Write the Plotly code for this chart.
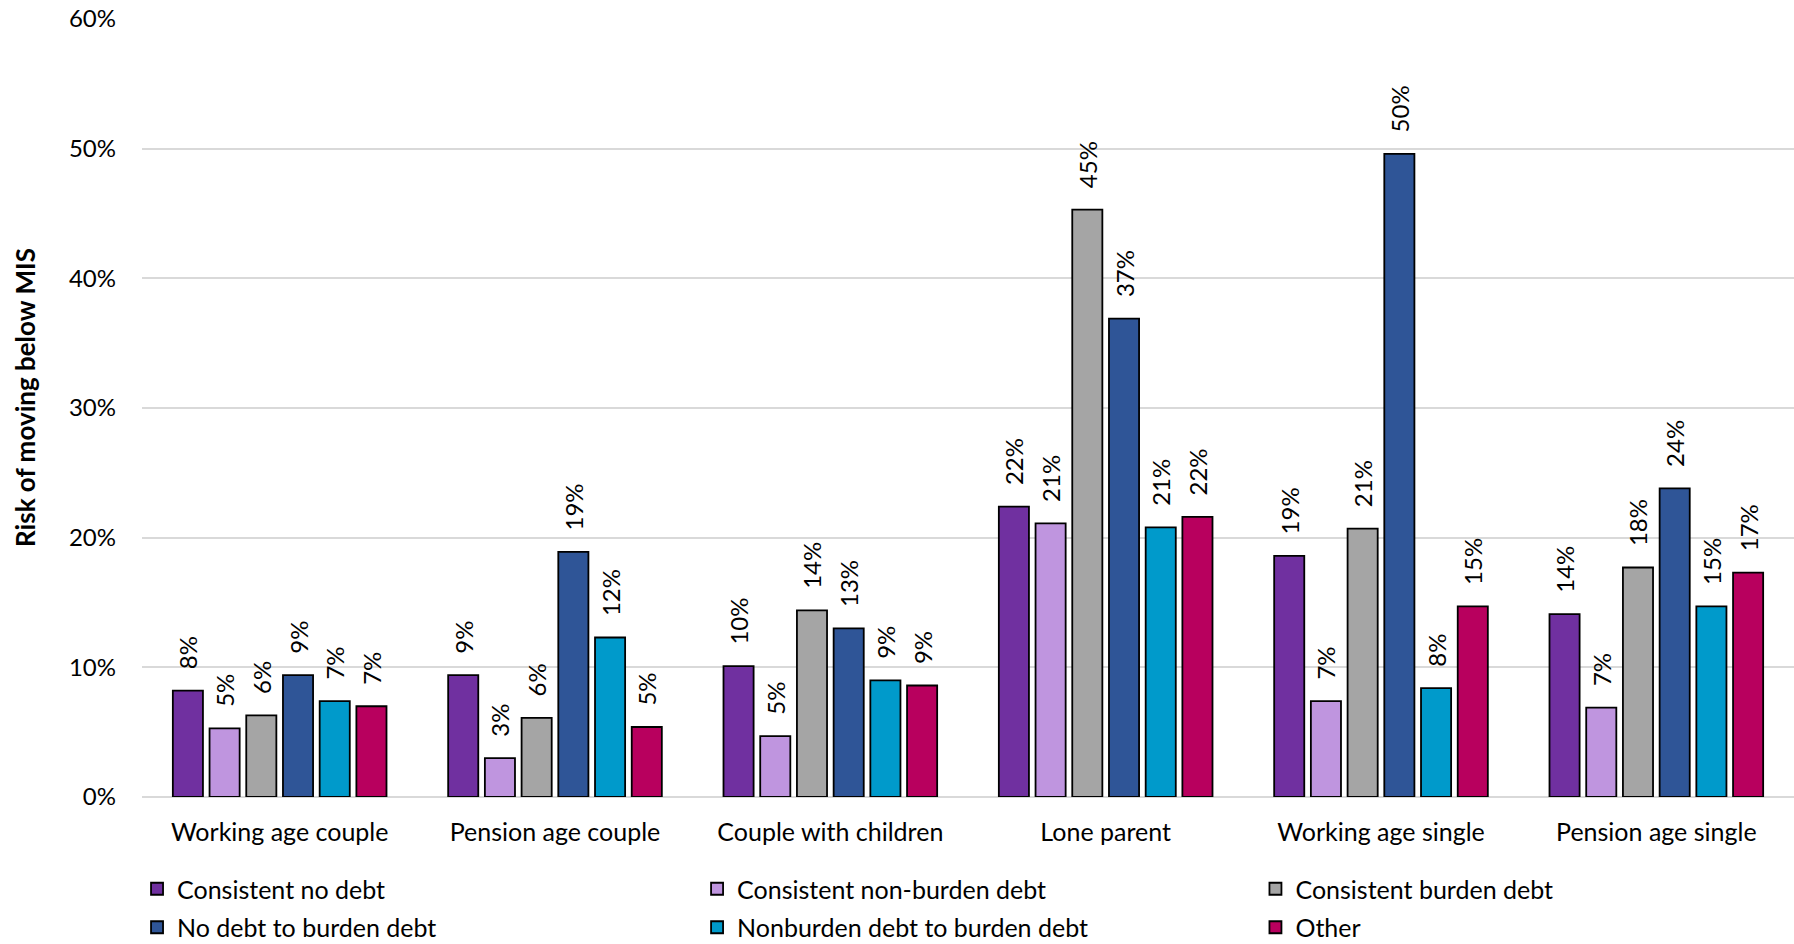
import plotly.graph_objects as go

# Household types along the x axis
categories = [
    "Working age couple",
    "Pension age couple",
    "Couple with children",
    "Lone parent",
    "Working age single",
    "Pension age single",
]

# Risk of moving below MIS, by debt trajectory
consistent_no_debt = [0.082, 0.094, 0.101, 0.224, 0.186, 0.141]
consistent_non_burden_debt = [0.053, 0.030, 0.047, 0.211, 0.074, 0.069]
consistent_burden_debt = [0.063, 0.061, 0.144, 0.453, 0.207, 0.177]
no_debt_to_burden_debt = [0.094, 0.189, 0.130, 0.369, 0.496, 0.238]
nonburden_debt_to_burden_debt = [0.074, 0.123, 0.090, 0.208, 0.084, 0.147]
other = [0.070, 0.054, 0.086, 0.216, 0.147, 0.173]

series = [
    ("Consistent no debt", consistent_no_debt, "#7030A0", "legend"),
    ("Consistent non-burden debt", consistent_non_burden_debt, "#BF95DF", "legend2"),
    ("Consistent burden debt", consistent_burden_debt, "#A5A5A5", "legend3"),
    ("No debt to burden debt", no_debt_to_burden_debt, "#2F5597", "legend"),
    ("Nonburden debt to burden debt", nonburden_debt_to_burden_debt, "#009ACB", "legend2"),
    ("Other", other, "#B8005E", "legend3"),
]

FONT = "Lato"
NBSP = "\u00a0"

fig = go.Figure()
for name, values, color, legend_id in series:
    fig.add_trace(go.Bar(
        name=name,
        x=categories,
        y=values,
        marker=dict(color=color, line=dict(color="#000000", width=1.8)),
        texttemplate=NBSP * 3 + "%{y:.0%}",
        textposition="outside",
        textangle=-90,
        textfont=dict(family=FONT, size=24, color="#000000"),
        constraintext="none",
        cliponaxis=False,
        legend=legend_id,
        legendgroup=name,
        hoverinfo="skip",
    ))

legend_common = dict(
    orientation="v",
    yanchor="top",
    xanchor="left",
    y=-0.0887,
    font=dict(family=FONT, size=25, color="#000000"),
    bgcolor="rgba(0,0,0,0)",
    borderwidth=0,
    tracegroupgap=3,
    itemclick=False,
)

fig.update_layout(
    width=1794,
    height=944,
    margin=dict(l=142, r=0, t=19, b=147, autoexpand=False),
    paper_bgcolor="#FFFFFF",
    plot_bgcolor="#FFFFFF",
    font=dict(family=FONT, size=24, color="#000000"),
    barmode="group",
    bargap=0.2,
    bargroupgap=0.18,
    uniformtext=dict(mode=False),
    legend=dict(x=-0.003, **legend_common),
    legend2=dict(x=0.336, **legend_common),
    legend3=dict(x=0.674, **legend_common),
    xaxis=dict(
        showgrid=False,
        showline=False,
        ticks="outside",
        ticklen=13,
        tickcolor="rgba(0,0,0,0)",
        tickfont=dict(family=FONT, size=25, color="#000000"),
    ),
    yaxis=dict(
        range=[0, 0.6],
        dtick=0.1,
        tickformat=".0%",
        showgrid=True,
        gridcolor="#D9D9D9",
        gridwidth=1.5,
        zeroline=True,
        zerolinecolor="#D9D9D9",
        zerolinewidth=1.5,
        showline=False,
        ticks="",
        ticklabelstandoff=25,
        tickfont=dict(family=FONT, size=24, color="#000000"),
    ),
    annotations=[
        dict(
            text="<b>Risk of moving below MIS</b>",
            xref="paper",
            yref="paper",
            x=-0.0708,
            y=0.513,
            xanchor="center",
            yanchor="middle",
            textangle=-90,
            showarrow=False,
            font=dict(family=FONT, size=26, color="#000000"),
        )
    ],
)

fig.write_html("out.html")
